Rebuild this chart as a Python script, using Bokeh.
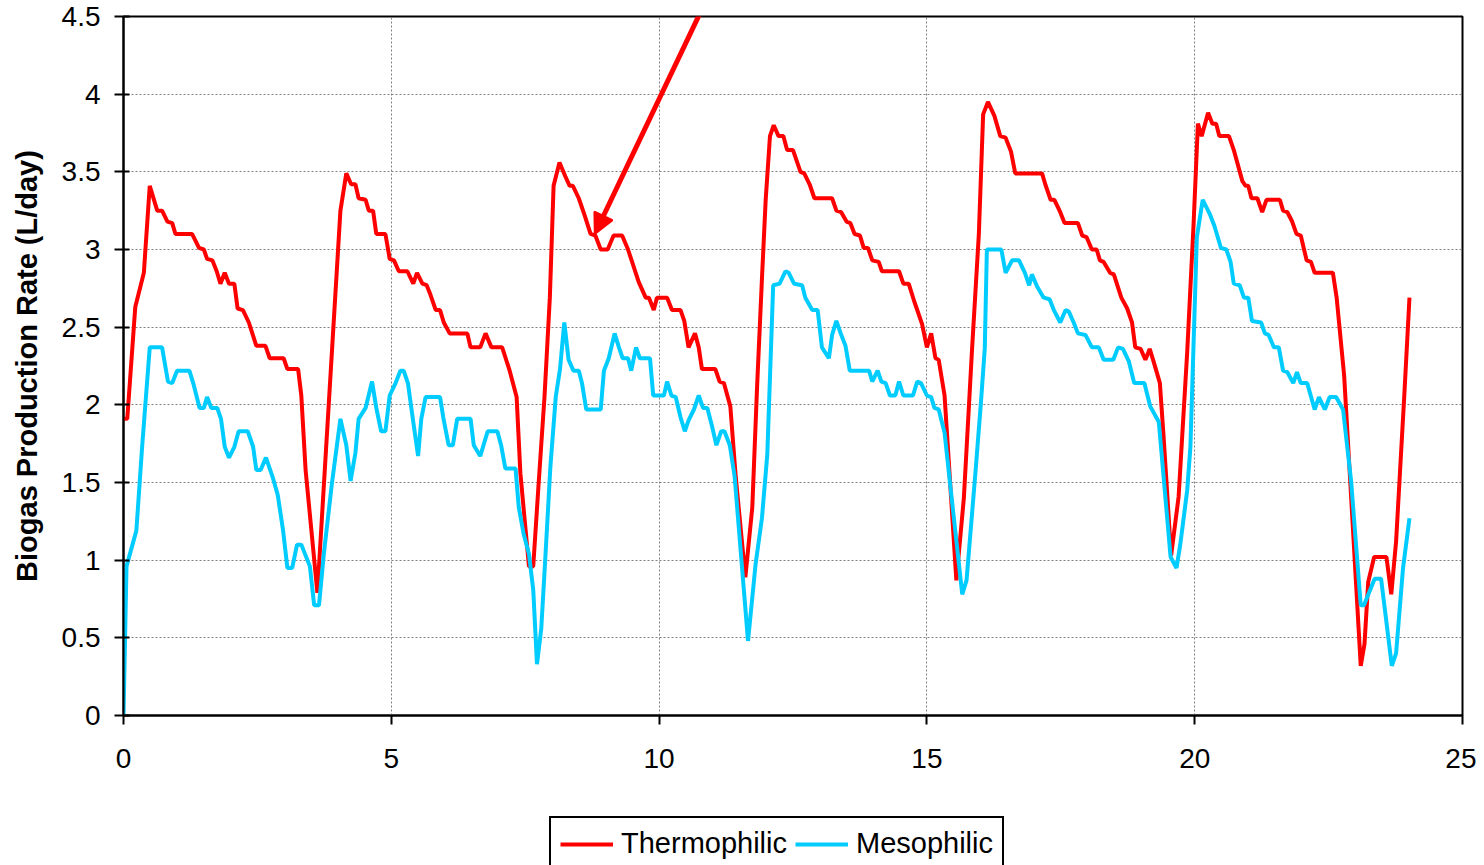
from bokeh.plotting import figure
from bokeh.layouts import column
from bokeh.models import (ColumnDataSource, Legend, LegendItem, FixedTicker,
                          Arrow, NormalHead, Range1d)
from bokeh.embed import file_html
from bokeh.resources import INLINE

# ---------------- data ----------------
thermo_day = [0.0, 0.07, 0.22, 0.38, 0.49, 0.63, 0.72, 0.82, 0.91, 0.97, 1.28, 1.41, 1.50, 1.56, 1.66,
              1.74, 1.81, 1.89, 1.97, 2.07, 2.13, 2.23, 2.34, 2.48, 2.65, 2.73, 2.99, 3.06, 3.26, 3.32,
              3.40, 3.62, 4.05, 4.16, 4.25, 4.33, 4.39, 4.52, 4.58, 4.66, 4.72, 4.89, 4.97, 5.05, 5.14,
              5.30, 5.41, 5.48, 5.58, 5.66, 5.73, 5.83, 5.91, 5.98, 6.09, 6.42, 6.48, 6.66, 6.76, 6.87,
              7.07, 7.21, 7.34, 7.41, 7.57, 7.65, 7.75, 7.86, 7.96, 8.03, 8.14, 8.25, 8.33, 8.39, 8.50,
              8.61, 8.72, 8.81, 8.91, 9.04, 9.15, 9.31, 9.42, 9.62, 9.75, 9.81, 9.90, 9.96, 10.15, 10.24,
              10.40, 10.47, 10.55, 10.67, 10.74, 10.80, 11.05, 11.13, 11.21, 11.33, 11.43, 11.61, 11.74,
              11.83, 11.92, 11.99, 12.07, 12.14, 12.23, 12.32, 12.39, 12.50, 12.64, 12.71, 12.81, 12.90,
              13.23, 13.31, 13.40, 13.50, 13.57, 13.65, 13.75, 13.82, 13.90, 13.98, 14.10, 14.16, 14.48,
              14.56, 14.66, 14.76, 14.91, 15.00, 15.08, 15.16, 15.22, 15.33, 15.55, 15.69, 15.84, 15.97,
              16.05, 16.14, 16.26, 16.37, 16.47, 16.57, 16.65, 17.15, 17.21, 17.31, 17.38, 17.49, 17.57,
              17.82, 17.90, 17.98, 18.08, 18.17, 18.23, 18.30, 18.42, 18.49, 18.63, 18.74, 18.83, 18.89,
              18.99, 19.08, 19.16, 19.24, 19.35, 19.42, 19.56, 19.70, 19.86, 19.98, 20.06, 20.13, 20.25,
              20.33, 20.40, 20.46, 20.64, 20.73, 20.89, 20.95, 21.00, 21.06, 21.17, 21.26, 21.34, 21.59,
              21.65, 21.73, 21.82, 21.90, 21.98, 22.09, 22.17, 22.24, 22.58, 22.65, 22.79, 22.94, 23.10,
              23.17, 23.24, 23.35, 23.58, 23.67, 23.76, 23.91, 24.01]
thermo_rate = [1.91, 1.91, 2.63, 2.85, 3.41, 3.25, 3.25, 3.18, 3.17, 3.10, 3.10, 3.01, 3.00, 2.94, 2.93,
               2.86, 2.78, 2.85, 2.78, 2.78, 2.62, 2.61, 2.53, 2.38, 2.38, 2.30, 2.30, 2.23, 2.23, 2.06,
               1.58, 0.79, 3.25, 3.49, 3.42, 3.42, 3.33, 3.32, 3.25, 3.25, 3.10, 3.10, 2.94, 2.93, 2.86,
               2.86, 2.78, 2.85, 2.78, 2.77, 2.71, 2.61, 2.61, 2.53, 2.46, 2.46, 2.37, 2.37, 2.46, 2.37,
               2.37, 2.22, 2.05, 1.56, 0.96, 0.96, 1.49, 2.05, 2.69, 3.41, 3.56, 3.47, 3.41, 3.41, 3.33,
               3.22, 3.10, 3.09, 3.00, 3.00, 3.09, 3.09, 3.00, 2.79, 2.69, 2.69, 2.61, 2.69, 2.69, 2.61,
               2.61, 2.54, 2.37, 2.46, 2.37, 2.23, 2.23, 2.15, 2.14, 1.99, 1.54, 0.89, 1.34,
               2.12, 2.81, 3.32, 3.73, 3.80, 3.73, 3.73, 3.64, 3.64, 3.50, 3.49, 3.42, 3.33,
               3.33, 3.25, 3.24, 3.18, 3.17, 3.10, 3.09, 3.01, 3.01, 2.93, 2.92, 2.86, 2.86,
               2.78, 2.78, 2.67, 2.52, 2.37, 2.46, 2.30, 2.29, 2.06, 0.87, 1.40, 2.34, 3.10,
               3.87, 3.95, 3.86, 3.73, 3.72, 3.63, 3.49, 3.49, 3.42, 3.32, 3.32, 3.24, 3.17,
               3.17, 3.09, 3.08, 3.00, 3.00, 2.93, 2.92, 2.85, 2.84, 2.69, 2.62, 2.53, 2.37,
               2.36, 2.29, 2.36, 2.27, 2.14, 1.79, 1.03, 1.41, 2.34, 3.17, 3.81, 3.73, 3.88,
               3.81, 3.81, 3.73, 3.73, 3.64, 3.44, 3.41, 3.41, 3.33, 3.33, 3.24, 3.32, 3.32,
               3.25, 3.24, 3.18, 3.10, 3.09, 2.93, 2.92, 2.85, 2.85, 2.69, 2.19, 1.29, 0.32,
               0.46, 0.86, 1.02, 1.02, 0.78, 1.12, 2.04, 2.69]

meso_day = [0.0, 0.056, 0.24, 0.35, 0.49, 0.72, 0.83, 0.91, 1.00, 1.23, 1.31, 1.42, 1.50, 1.56, 1.64,
            1.75, 1.82, 1.89, 1.97, 2.07, 2.15, 2.32, 2.42, 2.48, 2.56, 2.66, 2.78, 2.88, 2.98, 3.06,
            3.15, 3.24, 3.32, 3.48, 3.56, 3.65, 3.74, 3.89, 4.05, 4.16, 4.24, 4.33, 4.39, 4.52, 4.64,
            4.72, 4.81, 4.89, 4.97, 5.08, 5.17, 5.23, 5.31, 5.39, 5.50, 5.56, 5.64, 5.91, 5.97, 6.07,
            6.15, 6.23, 6.48, 6.54, 6.66, 6.80, 6.98, 7.05, 7.13, 7.32, 7.38, 7.47, 7.57, 7.65, 7.72,
            7.80, 7.88, 7.97, 8.07, 8.15, 8.23, 8.31, 8.40, 8.50, 8.56, 8.64, 8.91, 8.97, 9.06, 9.17,
            9.25, 9.32, 9.42, 9.48, 9.57, 9.64, 9.83, 9.89, 10.09, 10.15, 10.23, 10.31, 10.40, 10.48,
            10.55, 10.65, 10.74, 10.82, 10.90, 10.99, 11.07, 11.16, 11.22, 11.32, 11.41, 11.66, 11.80,
            11.92, 12.02, 12.13, 12.25, 12.36, 12.42, 12.52, 12.67, 12.73, 12.86, 12.96, 13.04, 13.17,
            13.23, 13.31, 13.39, 13.48, 13.56, 13.92, 13.98, 14.08, 14.15, 14.23, 14.31, 14.41, 14.48,
            14.56, 14.74, 14.82, 14.89, 15.00, 15.08, 15.14, 15.22, 15.33, 15.44, 15.66, 15.74, 15.91,
            16.01, 16.08, 16.12, 16.39, 16.47, 16.59, 16.72, 16.83, 16.91, 16.96, 17.06, 17.18, 17.29,
            17.37, 17.49, 17.59, 17.65, 17.74, 17.82, 17.96, 18.08, 18.21, 18.30, 18.48, 18.57, 18.66,
            18.77, 18.87, 19.06, 19.17, 19.33, 19.55, 19.66, 19.73, 19.86, 19.92, 20.04, 20.15, 20.28,
            20.37, 20.49, 20.59, 20.67, 20.73, 20.84, 20.92, 21.00, 21.07, 21.24, 21.31, 21.38, 21.48,
            21.57, 21.65, 21.73, 21.84, 21.91, 21.98, 22.10, 22.24, 22.32, 22.43, 22.52, 22.64, 22.77,
            22.92, 23.10, 23.16, 23.36, 23.48, 23.68, 23.76, 23.89, 24.01]
meso_rate = [0.0, 0.96, 1.19, 1.74, 2.37, 2.37, 2.15, 2.14, 2.22, 2.22, 2.13, 1.98, 1.98, 2.05, 1.98,
             1.98, 1.91, 1.73, 1.66, 1.73, 1.83, 1.83, 1.73, 1.58, 1.58, 1.66, 1.54, 1.42, 1.19, 0.95,
             0.95, 1.10, 1.10, 0.96, 0.71, 0.71, 1.04, 1.49, 1.91, 1.74, 1.51, 1.69, 1.91, 1.98, 2.15,
             1.98, 1.83, 1.83, 2.06, 2.14, 2.22, 2.22, 2.14, 1.94, 1.67, 1.91, 2.05, 2.05, 1.92, 1.74,
             1.74, 1.91, 1.91, 1.74, 1.67, 1.83, 1.83, 1.74, 1.59, 1.59, 1.34, 1.17, 1.04, 0.81, 0.33,
             0.56, 1.04, 1.60, 2.05, 2.23, 2.53, 2.29, 2.22, 2.22, 2.14, 1.97, 1.97, 2.22, 2.30, 2.46,
             2.37, 2.30, 2.30, 2.22, 2.37, 2.30, 2.30, 2.06, 2.06, 2.15, 2.06, 2.05, 1.92, 1.83,
             1.90, 1.97, 2.06, 1.98, 1.98, 1.86, 1.74, 1.83, 1.83, 1.74, 1.54, 0.48, 0.97,
             1.27, 1.68, 2.77, 2.78, 2.86, 2.85, 2.78, 2.77, 2.69, 2.61, 2.61, 2.37, 2.30,
             2.45, 2.54, 2.46, 2.38, 2.22, 2.22, 2.15, 2.22, 2.15, 2.14, 2.06, 2.06, 2.15,
             2.06, 2.06, 2.15, 2.14, 2.06, 2.05, 1.98, 1.97, 1.82, 1.47, 0.78, 0.87, 1.58,
             2.02, 2.36, 3.00, 3.00, 2.85, 2.93, 2.93, 2.85, 2.77, 2.84, 2.76, 2.69, 2.68,
             2.61, 2.53, 2.61, 2.60, 2.53, 2.46, 2.45, 2.37, 2.37, 2.29, 2.29, 2.37, 2.36,
             2.28, 2.14, 2.14, 1.99, 1.89, 1.02, 0.95, 1.10, 1.45, 1.73, 3.08, 3.32, 3.23,
             3.15, 3.01, 3.00, 2.92, 2.78, 2.77, 2.69, 2.69, 2.54, 2.53, 2.46, 2.45, 2.37,
             2.37, 2.22, 2.21, 2.14, 2.21, 2.14, 2.14, 1.97, 2.05, 1.97, 2.05, 2.05, 1.97,
             1.51, 0.71, 0.71, 0.88, 0.88, 0.32, 0.40, 0.95, 1.27]

series_names = ["Thermophilic", "Mesophilic"]
x_ticks = [0, 5, 10, 15, 20, 25]
y_ticks = [0, 0.5, 1, 1.5, 2, 2.5, 3, 3.5, 4, 4.5]
y_tick_labels = ["0", "0.5", "1", "1.5", "2", "2.5", "3", "3.5", "4", "4.5"]
y_label = "Biogas Production Rate (L/day)"

# annotation arrow (starts above the plot, points at the red curve)
arrow_start = (10.9, 4.62)
arrow_end = (8.80, 3.10)

RED = "#FF0000"
BLUE = "#00CCFF"
FONT = "Liberation Sans"
LW = 4

p = figure(width=1476, height=800, output_backend="svg", toolbar_location=None,
           x_range=Range1d(0, 25), y_range=Range1d(0, 4.5),
           min_border_left=123, min_border_right=14, min_border_top=16, min_border_bottom=85)
p.background_fill_color = "white"
p.border_fill_color = "white"
p.outline_line_color = "black"
p.outline_line_width = 2

src_t = ColumnDataSource(dict(x=thermo_day, y=thermo_rate))
src_m = ColumnDataSource(dict(x=meso_day, y=meso_rate))
p.line("x", "y", source=src_t, line_color=RED, line_width=LW)
p.line("x", "y", source=src_m, line_color=BLUE, line_width=LW)

# axes
p.xaxis.ticker = FixedTicker(ticks=x_ticks)
p.yaxis.ticker = FixedTicker(ticks=y_ticks)
p.yaxis.major_label_overrides = {t: l for t, l in zip(y_ticks, y_tick_labels)}
for ax in (p.xaxis[0], p.yaxis[0]):
    ax.axis_line_color = "black"
    ax.axis_line_width = 2
    ax.major_tick_line_color = "black"
    ax.major_tick_line_width = 2
    ax.minor_tick_line_color = None
    ax.major_label_text_font = FONT
    ax.major_label_text_font_size = "28px"
    ax.major_label_text_color = "black"
p.xaxis.major_tick_out = 9
p.xaxis.major_tick_in = 0
p.xaxis.major_label_standoff = 24
p.yaxis.major_tick_out = 9
p.yaxis.major_tick_in = 6
p.yaxis.major_label_standoff = 14
p.yaxis.axis_label = y_label
p.yaxis.axis_label_text_font = FONT
p.yaxis.axis_label_text_font_style = "bold"
p.yaxis.axis_label_text_font_size = "29px"
p.yaxis.axis_label_text_color = "black"
p.yaxis.axis_label_standoff = 16

# grid
for g in (p.xgrid[0], p.ygrid[0]):
    g.grid_line_color = "#7f7f7f"
    g.grid_line_width = 1
    g.grid_line_dash = "2 2"
p.xgrid.ticker = FixedTicker(ticks=x_ticks)
p.ygrid.ticker = FixedTicker(ticks=y_ticks)

# arrow
p.add_layout(Arrow(end=NormalHead(size=20, fill_color=RED, line_color=RED, line_width=2),
                   x_start=arrow_start[0], y_start=arrow_start[1],
                   x_end=arrow_end[0], y_end=arrow_end[1],
                   line_color=RED, line_width=5))

# legend in its own strip below the plot (key lines reuse the same data, drawn off-view)
lg = figure(width=1476, height=65, output_backend="svg", toolbar_location=None,
            x_range=Range1d(100, 101), y_range=Range1d(100, 101),
            min_border_left=0, min_border_right=0, min_border_top=0, min_border_bottom=0)
lg.axis.visible = False
lg.grid.visible = False
lg.outline_line_color = None
lg.background_fill_color = "white"
lg.border_fill_color = "white"
k_t = lg.line("x", "y", source=src_t, line_color=RED, line_width=LW)
k_m = lg.line("x", "y", source=src_m, line_color=BLUE, line_width=LW)

legend = Legend(items=[LegendItem(label=series_names[0], renderers=[k_t]),
                       LegendItem(label=series_names[1], renderers=[k_m])],
                orientation="horizontal", location=(426, -6))
legend.label_text_font = FONT
legend.label_text_font_size = "29px"
legend.label_text_color = "black"
legend.glyph_width = 53
legend.glyph_height = 24
legend.label_standoff = 8
legend.spacing = 8
legend.padding = 9
legend.margin = 0
legend.border_line_color = "black"
legend.border_line_alpha = 1.0
legend.border_line_width = 2
legend.background_fill_color = "white"
legend.background_fill_alpha = 1
lg.add_layout(legend, "center")

layout = column(p, lg, spacing=0)
open("out.html", "w").write(file_html(layout, INLINE))
